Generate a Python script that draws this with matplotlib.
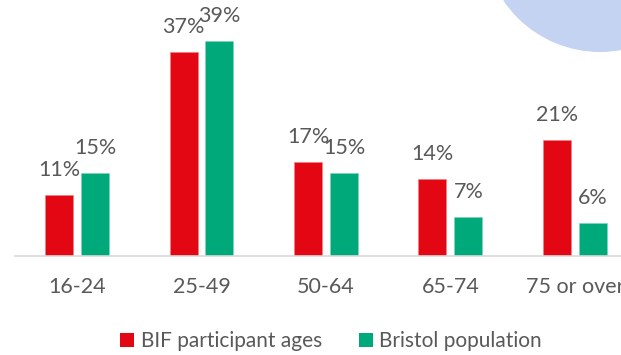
import matplotlib
matplotlib.use("Agg")
import matplotlib.pyplot as plt
import numpy as np
from matplotlib.patches import Circle, Patch

# Age bands and shares (%)
categories = ["16-24", "25-49", "50-64", "65-74", "75 or over"]
bif_participants = [11, 37, 17, 14, 21]
bristol_population = [15, 39, 15, 7, 6]
series_names = ["BIF participant ages", "Bristol population"]

RED = "#E30613"
GREEN = "#00A97A"
TEXT = "#595959"

plt.rcParams["font.family"] = ["Lato", "DejaVu Sans"]

W, H, DPI = 621, 355, 100
fig = plt.figure(figsize=(W / DPI, H / DPI), dpi=DPI)

# Decorative lavender disc in the top-right corner
fig.add_artist(Circle((600 / DPI, (H + 64.5) / DPI), 116.5 / DPI,
                      transform=fig.dpi_scale_trans, facecolor="#C5D3F3",
                      edgecolor="none", zorder=0))

ax = fig.add_axes([15 / W, (H - 256) / H, (W - 15) / W, 256 / H])
ax.patch.set_alpha(0)

x = np.arange(len(categories))
spacing = 124.5
width = 28 / spacing
offset = 18 / spacing

bars1 = ax.bar(x - offset, bif_participants, width, color=RED,
               edgecolor="#F08080", linewidth=0.4, label=series_names[0])
bars2 = ax.bar(x + offset, bristol_population, width, color=GREEN,
               edgecolor="#80D4BC", linewidth=0.4, label=series_names[1])

for bars, vals in ((bars1, bif_participants), (bars2, bristol_population)):
    for b, v in zip(bars, vals):
        ax.annotate(f"{v}%", (b.get_x() + b.get_width() / 2, v),
                    xytext=(0, 25), textcoords="offset pixels",
                    ha="center", va="center", fontsize=15.5, color=TEXT,
                    annotation_clip=False)

ax.set_xlim((15 - 77) / spacing, (W - 77) / spacing)
ax.set_ylim(0, 256 / 5.51)

for side in ("top", "right", "left"):
    ax.spines[side].set_visible(False)
ax.spines["bottom"].set_color("#D9D9D9")
ax.spines["bottom"].set_linewidth(1.2)
ax.set_yticks([])
ax.set_xticks(x)
ax.set_xticklabels(categories, fontsize=15.5, color=TEXT)
ax.tick_params(axis="x", length=0, pad=15)

handles = [Patch(facecolor=RED), Patch(facecolor=GREEN)]
fig.legend(handles, series_names, loc="center", bbox_to_anchor=(331 / W, (H - 341) / H),
           ncol=2, frameon=False, fontsize=15, labelcolor=TEXT,
           handlelength=0.67, handleheight=0.67, handletextpad=0.3,
           columnspacing=1.78, borderpad=0, borderaxespad=0)

fig.savefig("out.png", dpi=DPI)
